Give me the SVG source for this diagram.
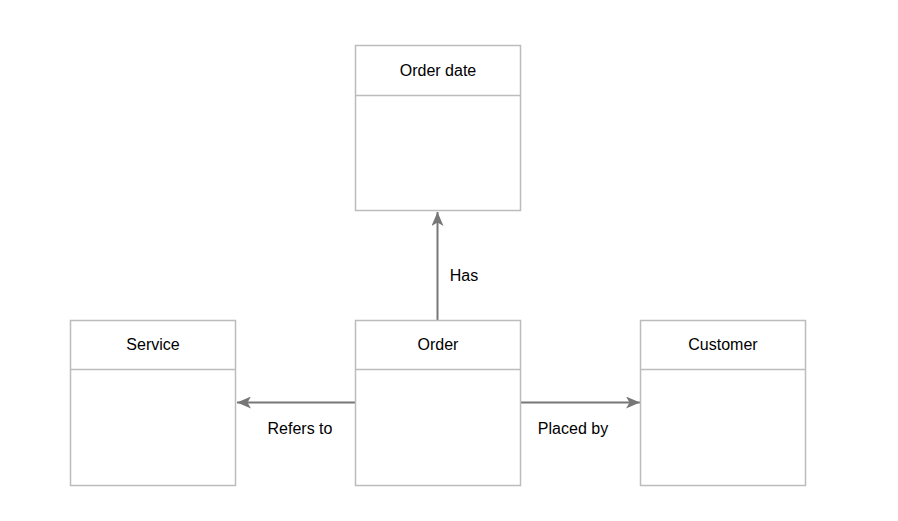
<svg xmlns="http://www.w3.org/2000/svg" width="898" height="521" viewBox="0 0 898 521">
<style>
.box{fill:#fff;stroke:#bcbcbc;stroke-width:1.5}
.div{stroke:#bcbcbc;stroke-width:1.5}
.t{font-family:"Liberation Sans",Arial,sans-serif;font-size:16px;fill:#000;text-anchor:middle}
.e{stroke:#777;stroke-width:2;fill:none}
</style>
<defs>
<marker id="ah" viewBox="0 0 14 12" refX="14" refY="6" markerWidth="14" markerHeight="12" markerUnits="userSpaceOnUse" orient="auto">
<path d="M0,0 L14,6 L0,12 L3.5,6 Z" fill="#777"/>
</marker>
</defs>
<rect width="898" height="521" fill="#fff"/>
<g id="edges">
<line class="e" x1="437.5" y1="320" x2="437.5" y2="212" marker-end="url(#ah)"/>
<line class="e" x1="355" y1="402.5" x2="237" y2="402.5" marker-end="url(#ah)"/>
<line class="e" x1="520" y1="402.5" x2="640" y2="402.5" marker-end="url(#ah)"/>
<text class="t" x="464" y="281">Has</text>
<text class="t" x="300" y="434">Refers to</text>
<text class="t" x="573" y="434">Placed by</text>
</g>
<g id="order-date">
<rect class="box" x="355.5" y="45.5" width="165" height="165"/>
<line class="div" x1="355.5" y1="95.5" x2="520.5" y2="95.5"/>
<text class="t" x="438" y="76">Order date</text>
</g>
<g id="service">
<rect class="box" x="70.5" y="320.5" width="165" height="165"/>
<line class="div" x1="70.5" y1="369.5" x2="235.5" y2="369.5"/>
<text class="t" x="153" y="350">Service</text>
</g>
<g id="order">
<rect class="box" x="355.5" y="320.5" width="165" height="165"/>
<line class="div" x1="355.5" y1="369.5" x2="520.5" y2="369.5"/>
<text class="t" x="438" y="350">Order</text>
</g>
<g id="customer">
<rect class="box" x="640.5" y="320.5" width="165" height="165"/>
<line class="div" x1="640.5" y1="369.5" x2="805.5" y2="369.5"/>
<text class="t" x="723" y="350">Customer</text>
</g>
</svg>
